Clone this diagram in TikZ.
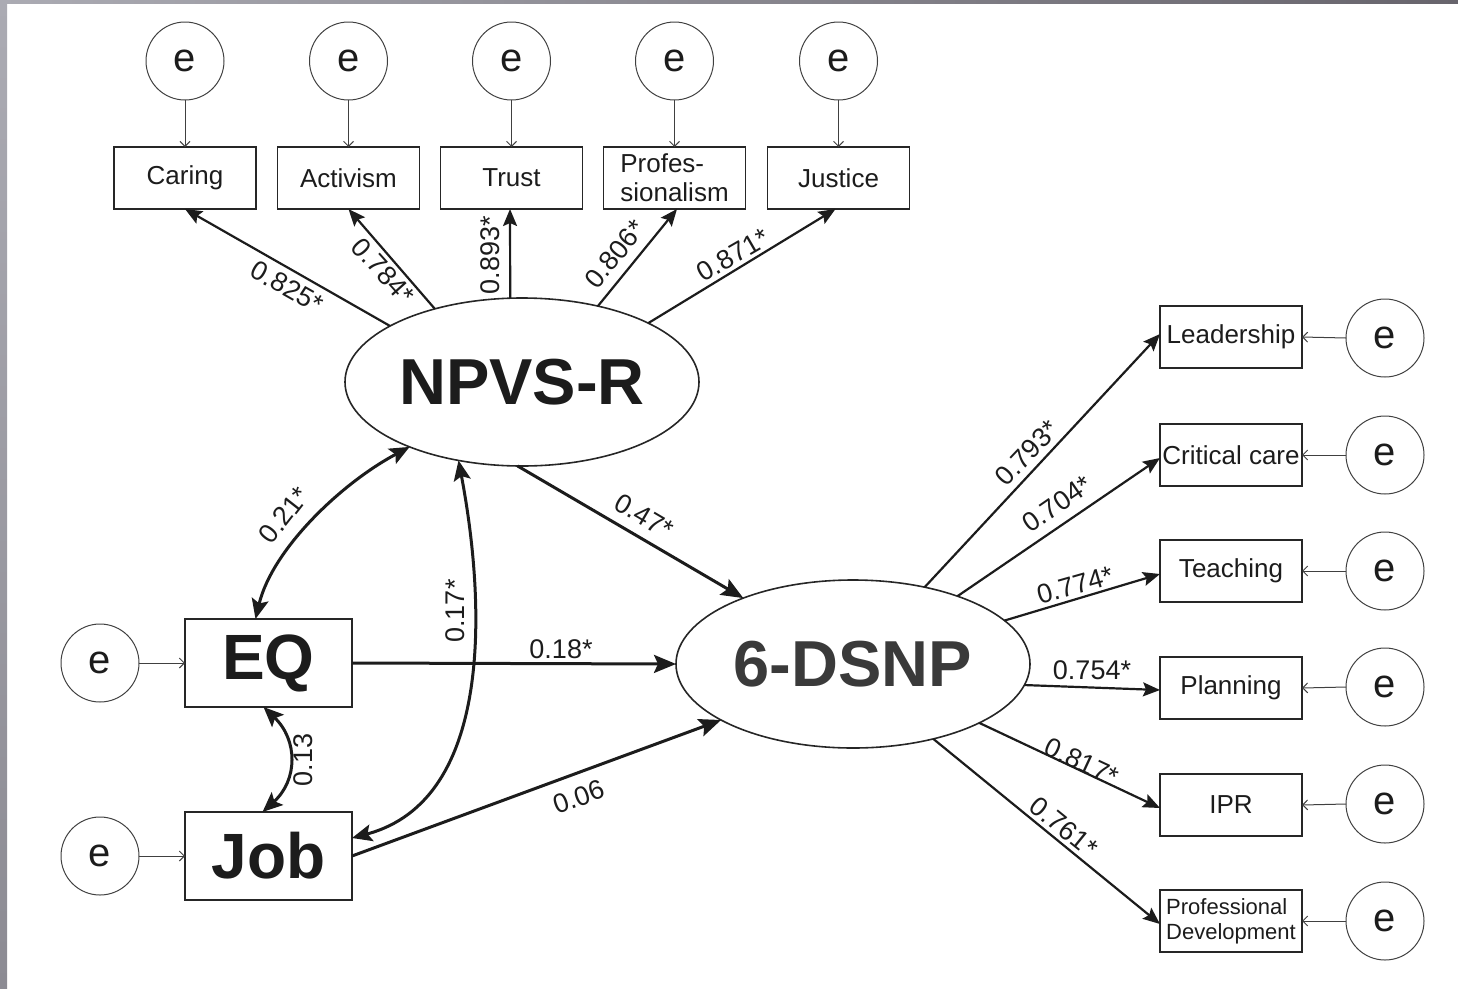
\documentclass[tikz,border=0pt]{standalone}
\usepackage{fontspec}
\setmainfont{Liberation Sans}
\usetikzlibrary{arrows.meta,shapes.geometric}
\definecolor{inkc}{HTML}{1C1C1C}
\definecolor{dsnpc}{HTML}{3A3A3A}
\definecolor{framea}{HTML}{ABABB3}
\definecolor{frameb}{HTML}{67646C}
\definecolor{framec}{HTML}{8C8B93}

\begin{document}
\begin{tikzpicture}[x=1pt,y=-1pt,
  every node/.style={inner sep=0pt,outer sep=0pt,text=inkc},
  errc/.style={circle,draw=black!75,line width=1pt,minimum size=78pt,
    font=\fontsize{40}{40}\selectfont},
  ind/.style={rectangle,draw=black!85,line width=1.4pt,minimum width=142pt,
    minimum height=62pt,font=\fontsize{26}{29}\selectfont,align=left},
  obs/.style={rectangle,draw=black!85,line width=1.4pt,minimum width=167pt,
    minimum height=88pt,font=\fontsize{64}{64}\bfseries\selectfont},
  lat/.style={ellipse,draw=black!85,line width=1.6pt,minimum width=354pt,
    minimum height=168pt,font=\fontsize{65}{65}\bfseries\selectfont},
  coef/.style={font=\fontsize{27}{27}\selectfont},
  erra/.style={draw=black!75,line width=1pt,-{Straight Barb[length=5pt,width=10pt]}},
  load/.style={draw=inkc,line width=2.2pt,-{Stealth[length=17pt,width=14pt,inset=3pt]}},
  strong/.style={draw=inkc,line width=3pt,-{Stealth[length=22pt,width=18pt,inset=4pt]}},
  cov/.style={draw=inkc,line width=3pt,
    {Stealth[length=20pt,width=17pt,inset=4pt]}-{Stealth[length=20pt,width=17pt,inset=4pt]}}
]
\useasboundingbox (0,0) rectangle (1458,988);
% frame strips
\shade[left color=framea,right color=frameb] (0,0) rectangle (1458,3);
\shade[top color=framea,bottom color=framec] (0,0) rectangle (7,988);

% latent variables
\node[lat] (npvs) at (522,382) {NPVS-R};
\node[lat,text=dsnpc] (dsnp) at (853,664) {6-DSNP};

% indicators of NPVS-R
\node[ind] (caring) at (185,178) {Caring};
\node[ind] (activ) at (348.5,178) {Activism};
\node[ind] (trust) at (511.5,178) {Trust};
\node[ind] (profes) at (674.5,178) {Profes-\\sionalism};
\node[ind] (just) at (838.5,178) {Justice};

\foreach \b/\n in {caring/e1,activ/e2,trust/e3,profes/e4,just/e5}{
  \node[errc] (\n) at ([yshift=117pt]\b.center) {e};
  \draw[erra] (\n.south) -- (\b.north);
}

% observed predictors
\node[obs] (eq) at (268.5,663) {EQ};
\node[obs] (job) at (268.5,856) {Job};
\node[errc] (el1) at (100,663) {e};
\node[errc] (el2) at (100,856) {e};
\draw[erra] (el1.east) -- (eq.west);
\draw[erra] (el2.east) -- (job.west);

% indicators of 6-DSNP
\node[ind] (lead) at (1231,337) {Leadership};
\node[ind] (crit) at (1231,455) {Critical care};
\node[ind] (teach) at (1231,571) {Teaching};
\node[ind] (plan) at (1231,688) {Planning};
\node[ind] (ipr) at (1231,805) {IPR};
\node[ind,font=\fontsize{22}{25}\selectfont] (pdev) at (1231,921) {Professional\\Development};

\node[errc] (r1) at (1385,338) {e};
\node[errc] (r2) at (1385,455) {e};
\node[errc] (r3) at (1385,571) {e};
\node[errc] (r4) at (1385,687) {e};
\node[errc] (r5) at (1385,804) {e};
\node[errc] (r6) at (1385,921) {e};
\foreach \n/\b in {r1/lead,r2/crit,r3/teach,r4/plan,r5/ipr,r6/pdev}{
  \draw[erra] (\n.west) -- (\b.east);
}

% loadings of NPVS-R
\draw[load] (npvs.157.5) -- (caring.south);
\draw[load] (npvs.140) -- (activ.south);
\draw[load] (npvs.98) -- ([xshift=-1.5pt]trust.south);
\draw[load] (npvs.45) -- ([xshift=2.5pt]profes.south);
\draw[load] (npvs.25.6) -- ([xshift=-3pt]just.south);
\node[coef,rotate=-29.5] (c1) at (287,287) {0.825*};
\node[coef,rotate=-48] (c2) at (383,271) {0.784*};
\node[coef,rotate=90] (c3) at (490,255) {0.893*};
\node[coef,rotate=50.5] (c4) at (615,254) {0.806*};
\node[coef,rotate=30] (c5) at (733,255) {0.871*};

% loadings of 6-DSNP
\draw[load] (dsnp.47.7) -- ([yshift=3pt]lead.west);
\draw[load] (dsnp.33) -- ([yshift=-3pt]crit.west);
\draw[load] (dsnp.16.7) -- ([yshift=-3pt]teach.west);
\draw[load] (dsnp.-7.8) -- ([yshift=-2pt]plan.west);
\draw[load] (dsnp.-25.7) -- ([yshift=-3pt]ipr.west);
\draw[load] (dsnp.-43.9) -- ([yshift=-3pt]pdev.west);
\node[coef,rotate=46.5] (d1) at (1027,453) {0.793*};
\node[coef,rotate=34.6] (d2) at (1057,504) {0.704*};
\node[coef,rotate=16] (d3) at (1075,585) {0.774*};
\node[coef] (d4) at (1092,670) {0.754*};
\node[coef,rotate=-25] (d5) at (1082,762) {0.817*};
\node[coef,rotate=-39] (d6) at (1064,827) {0.761*};

% structural paths
\draw[strong] (npvs.-93) -- (dsnp.149.7);
\draw[strong] (eq.east) -- (dsnp.west);
\draw[strong] (job.east) -- (dsnp.203.7);
\node[coef,rotate=-30.4] (p1) at (644,516) {0.47*};
\node[coef] (p2) at (561,649) {0.18*};
\node[coef,rotate=20] (p3) at (579,797) {0.06};

% covariances
\draw[cov] ([xshift=-13pt]eq.north) .. controls (272,550) and (340,484) .. (npvs.210.6);
\draw[cov] (npvs.231.7) .. controls (485,600) and (495,800) .. ([yshift=18pt]job.east);
\draw[cov] ([xshift=-5pt]eq.south) .. controls (298,740) and (298,780) .. ([xshift=-6pt]job.north);
\node[coef,rotate=52] (k1) at (284,515) {0.21*};
\node[coef,rotate=90] (k2) at (455,611) {0.17*};
\node[coef,rotate=90] (k3) at (303,760) {0.13};
\end{tikzpicture}
\end{document}
